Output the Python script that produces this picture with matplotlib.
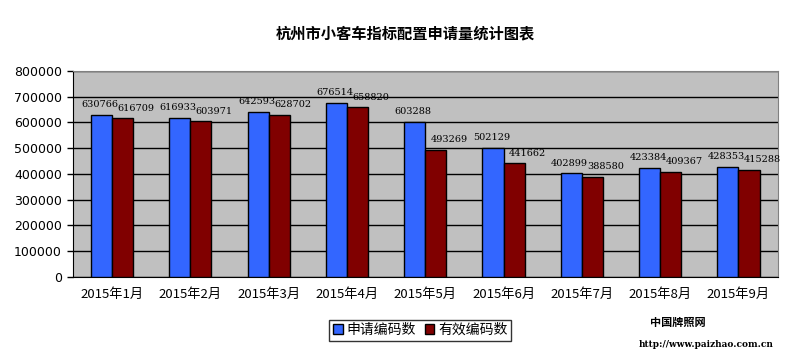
import matplotlib
matplotlib.use("Agg")
import matplotlib.pyplot as plt
import numpy as np

plt.rcParams['font.family'] = ['Noto Sans CJK SC', 'DejaVu Sans']

categories = ["2015年1月", "2015年2月", "2015年3月", "2015年4月", "2015年5月",
              "2015年6月", "2015年7月", "2015年8月", "2015年9月"]
applied = [630766, 616933, 642593, 676514, 603288, 502129, 402899, 423384, 428353]
valid = [616709, 603971, 628702, 658820, 493269, 441662, 388580, 409367, 415288]
series_names = ["申请编码数", "有效编码数"]
yticks = [0, 100000, 200000, 300000, 400000, 500000, 600000, 700000, 800000]

fig = plt.figure(figsize=(8.1, 3.6), dpi=100)
ax = fig.add_axes([0.090, 0.2306, 0.870, 0.5722])
ax.set_facecolor('#C0C0C0')

x = np.arange(len(categories))
w = 0.27
b1 = ax.bar(x - w/2, applied, w, color='#3366FF', edgecolor='black', linewidth=1, label=series_names[0], zorder=3)
b2 = ax.bar(x + w/2, valid, w, color='#800000', edgecolor='black', linewidth=1, label=series_names[1], zorder=3)

for xi, v in zip(x, applied):
    ax.text(xi - w/2 - 0.02, v + 22000, str(v), ha='center', va='bottom', fontsize=7,
            family='DejaVu Serif', zorder=4)
for xi, v in zip(x, valid):
    ax.text(xi + w/2 + 0.17, v + 22000, str(v), ha='center', va='bottom', fontsize=7,
            family='DejaVu Serif', zorder=4)

ax.set_xlim(-0.5, len(categories) - 0.5)
ax.set_ylim(0, 800000)
ax.set_yticks(yticks)
ax.set_yticklabels([str(t) for t in yticks], fontsize=9, family='DejaVu Sans')
ax.set_xticks(x)
ax.set_xticklabels(categories, fontsize=9.5)
ax.tick_params(axis='x', length=0, pad=8)
ax.tick_params(axis='y', length=4, direction='out', width=1, pad=4)
ax.yaxis.grid(True, color='black', linewidth=1, zorder=1)
ax.set_axisbelow(True)
for s in ['top', 'right']:
    ax.spines[s].set_color('#808080')
for s in ['left', 'bottom']:
    ax.spines[s].set_color('black')

fig.text(0.5, 0.908, "杭州市小客车指标配置申请量统计图表", ha='center', va='center',
         fontsize=11, fontweight='bold')

leg = fig.legend(handles=[b1, b2], loc='center', bbox_to_anchor=(0.519, 0.083), ncol=2,
                 frameon=True, fontsize=10, handlelength=0.7, handleheight=0.7,
                 handletextpad=0.3, columnspacing=0.6, borderpad=0.25, fancybox=False)
leg.get_frame().set_edgecolor('black')
leg.get_frame().set_linewidth(1)

fig.text(0.837, 0.105, "中国牌照网", ha='center', va='center', fontsize=8, fontweight='bold')
fig.text(0.872, 0.042, "http://www.paizhao.com.cn", ha='center', va='center', fontsize=6.5,
         fontweight='bold', family='DejaVu Serif')

fig.savefig("out.png", dpi=100)
